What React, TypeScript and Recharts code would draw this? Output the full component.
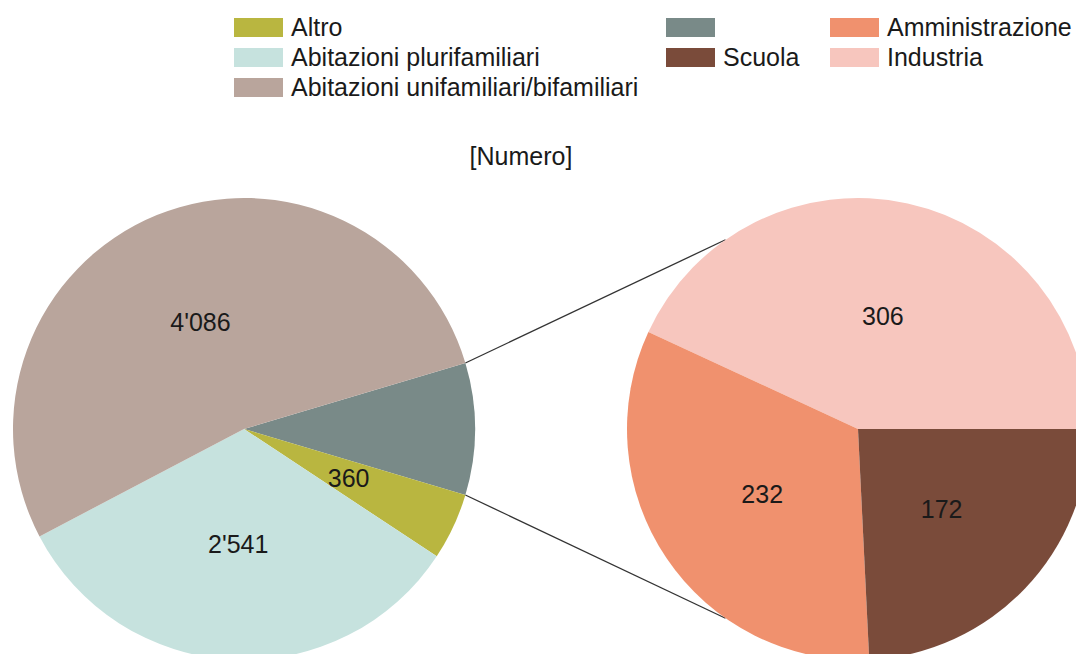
import { PieChart, Pie, Cell, Customized } from 'recharts'

// torta principale (il primo settore raggruppa il dettaglio a destra)
const mainCategories = ['', 'Altro', 'Abitazioni plurifamiliari', 'Abitazioni unifamiliari/bifamiliari']
const detailCategories = ['Industria', 'Amministrazione', 'Scuola']
const detailValues = [306, 232, 172]
const mainValues = [detailValues.reduce((a, b) => a + b, 0), 360, 2541, 4086]

const mainColors = ['#798a88', '#b9b640', '#c6e2de', '#b9a59c']
const detailColors = ['#f7c6be', '#f0916e', '#7a4b3a']

const legendColumns = [
  [{ name: 'Altro', color: '#b9b640' }, { name: 'Abitazioni plurifamiliari', color: '#c6e2de' }, { name: 'Abitazioni unifamiliari/bifamiliari', color: '#b9a59c' }],
  [{ name: '', color: '#798a88' }, { name: 'Scuola', color: '#7a4b3a' }],
  [{ name: 'Amministrazione', color: '#f0916e' }, { name: 'Industria', color: '#f7c6be' }],
]
const legendX = [234, 666, 830]

const W = 1076
const H = 654
const R = 231
const LEFT = { x: 244, y: 429 }
const RIGHT = { x: 858, y: 429 }
const FONT = "'Liberation Sans', Arial, sans-serif"
const RAD = Math.PI / 180

const mainData = mainCategories.map((name, i) => ({ name, value: mainValues[i] }))
const detailData = detailCategories.map((name, i) => ({ name, value: detailValues[i] }))
const total = mainValues.reduce((a, b) => a + b, 0)
const half = (mainValues[0] / total) * 180

const fmt = (v: number) => String(v).replace(/\B(?=(\d{3})+(?!\d))/g, "'")

function renderLabel(skipFirst: boolean) {
  return (p: any) => {
    if (skipFirst && p.index === 0) return null
    const r = p.outerRadius * 0.5
    const x = p.cx + r * Math.cos(-p.midAngle * RAD)
    const y = p.cy + r * Math.sin(-p.midAngle * RAD)
    return (
      <text x={x} y={y} textAnchor="middle" dominantBaseline="central" fill="#1a1a1a" fontSize={25} fontFamily={FONT}>
        {fmt(p.value)}
      </text>
    )
  }
}

function Connectors() {
  const a = half * RAD
  const b = 125 * RAD
  const lines = [1, -1].map((s) => ({
    x1: LEFT.x + R * Math.cos(a),
    y1: LEFT.y - s * R * Math.sin(a),
    x2: RIGHT.x + R * Math.cos(b),
    y2: RIGHT.y - s * R * Math.sin(b),
  }))
  return (
    <g>
      {lines.map((l, i) => (
        <line key={i} {...l} stroke="#333" strokeWidth={1.3} />
      ))}
      <text x={521} y={156} textAnchor="middle" dominantBaseline="central" fill="#1a1a1a" fontSize={25} fontFamily={FONT}>
        [Numero]
      </text>
    </g>
  )
}

function LegendBox() {
  return (
    <div style={{ position: 'absolute', left: 0, top: 0, width: W, height: 100, fontFamily: FONT, fontSize: 25, color: '#1a1a1a' }}>
      {legendColumns.map((col, c) =>
        col.map((item, r) => (
          <div key={c + '-' + r} style={{ position: 'absolute', left: legendX[c], top: 12 + r * 30, height: 30, display: 'flex', alignItems: 'center', whiteSpace: 'nowrap' }}>
            <span style={{ display: 'inline-block', width: 49, height: 19, background: item.color, marginRight: 8 }} />
            <span>{item.name}</span>
          </div>
        ))
      )}
    </div>
  )
}

export default function App() {
  return (
    <div style={{ position: 'absolute', left: 0, top: 0, width: W, height: H, background: '#fff', overflow: 'hidden' }}>
      <PieChart width={W} height={H} margin={{ top: 0, right: 0, bottom: 0, left: 0 }}>
        <Pie
          data={mainData}
          dataKey="value"
          nameKey="name"
          cx={LEFT.x}
          cy={LEFT.y}
          outerRadius={R}
          startAngle={half}
          endAngle={half - 360}
          stroke="none"
          label={renderLabel(true)}
          labelLine={false}
          isAnimationActive={false}
        >
          {mainData.map((_, i) => (
            <Cell key={i} fill={mainColors[i]} />
          ))}
        </Pie>
        <Pie
          data={detailData}
          dataKey="value"
          nameKey="name"
          cx={RIGHT.x}
          cy={RIGHT.y}
          outerRadius={R}
          startAngle={0}
          endAngle={360}
          stroke="none"
          label={renderLabel(false)}
          labelLine={false}
          isAnimationActive={false}
        >
          {detailData.map((_, i) => (
            <Cell key={i} fill={detailColors[i]} />
          ))}
        </Pie>
        <Customized component={<Connectors />} />
      </PieChart>
      <LegendBox />
    </div>
  )
}
